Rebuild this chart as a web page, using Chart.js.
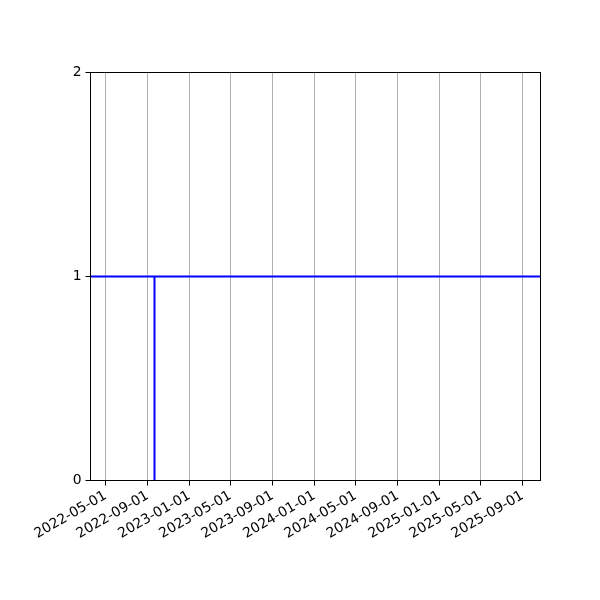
<!DOCTYPE html>
<html>
<head>
<meta charset="utf-8">
<script src="https://cdn.jsdelivr.net/npm/chart.js@4"></script>
<style>
  html, body { margin: 0; padding: 0; background: #fff; }
  #wrap { width: 600px; height: 600px; }
</style>
</head>
<body>
<div id="wrap"><canvas id="chart"></canvas></div>
<script>
// x range of the axes (dates)
const xRange = ['2022-03-18', '2025-10-23'];
// horizontal level spanning the whole axes
const levelValue = 1;
// vertical step segment
const stepDates = ['2022-09-21', '2022-09-21'];
const stepValues = [0, 1];
// tick labels
const xTickLabels = ['2022-05-01', '2022-09-01', '2023-01-01', '2023-05-01', '2023-09-01',
  '2024-01-01', '2024-05-01', '2024-09-01', '2025-01-01', '2025-05-01', '2025-09-01'];
const yTicks = [0, 1, 2];

const toTs = (s) => Date.parse(s + 'T00:00:00Z');
const pad2 = (n) => String(n).padStart(2, '0');
const fmtDate = (v) => {
  const d = new Date(v);
  return `${d.getUTCFullYear()}-${pad2(d.getUTCMonth() + 1)}-${pad2(d.getUTCDate())}`;
};

const xMin = toTs(xRange[0]);
const xMax = toTs(xRange[1]);

const framePlugin = {
  id: 'frame',
  afterDraw(chart) {
    const { ctx, chartArea: a } = chart;
    ctx.save();
    ctx.strokeStyle = '#000';
    ctx.lineWidth = 1;
    ctx.strokeRect(a.left, a.top, a.right - a.left, a.bottom - a.top);
    ctx.restore();
  }
};

const font = { family: 'DejaVu Sans', size: 13.9 };

new Chart(document.getElementById('chart'), {
  type: 'line',
  data: {
    datasets: [
      {
        data: [{ x: xMin, y: levelValue }, { x: xMax, y: levelValue }],
        borderColor: '#0000ff', borderWidth: 2, pointRadius: 0, tension: 0,
      },
      {
        data: stepDates.map((d, i) => ({ x: toTs(d), y: stepValues[i] })),
        borderColor: '#0000ff', borderWidth: 2, pointRadius: 0, tension: 0,
      },
    ],
  },
  options: {
    responsive: true,
    maintainAspectRatio: false,
    animation: false,
    layout: { padding: { top: 72.5, right: 59.5, left: 0, bottom: 0 } },
    plugins: { legend: { display: false }, tooltip: { enabled: false } },
    scales: {
      x: {
        type: 'linear',
        min: xMin,
        max: xMax,
        afterBuildTicks: (s) => { s.ticks = xTickLabels.map((l) => ({ value: toTs(l) })); },
        afterFit: (s) => { s.height = 119.5; },
        border: { display: false },
        grid: { color: '#b0b0b0', lineWidth: 1, tickColor: '#000', tickLength: 5 },
        ticks: {
          color: '#000', font, autoSkip: false, minRotation: 30, maxRotation: 30, padding: 2,
          callback: (v) => fmtDate(v),
        },
      },
      y: {
        min: 0,
        max: 2,
        afterBuildTicks: (s) => { s.ticks = yTicks.map((v) => ({ value: v })); },
        afterFit: (s) => { s.width = 90.5; },
        border: { display: false },
        grid: { drawOnChartArea: false, tickColor: '#000', tickLength: 5 },
        ticks: { color: '#000', font, padding: 4 },
      },
    },
  },
  plugins: [framePlugin],
});
</script>
</body>
</html>
